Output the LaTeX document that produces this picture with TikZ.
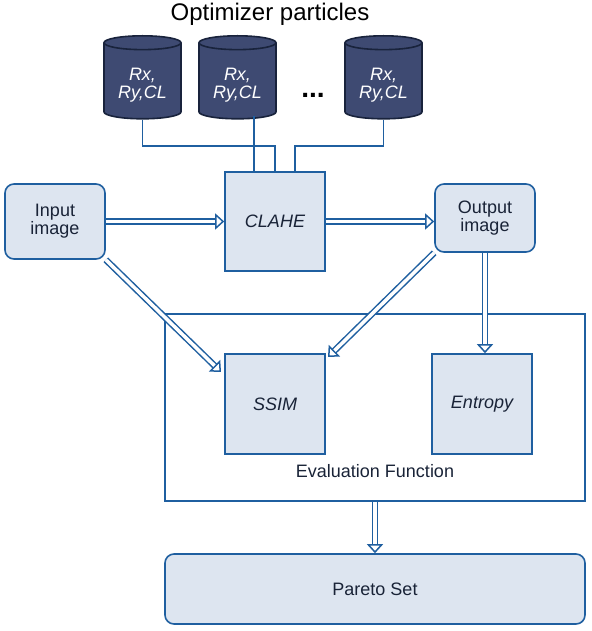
\documentclass[tikz,border=0pt]{standalone}
\usepackage{fontspec}
\setmainfont{Liberation Sans}
\usetikzlibrary{positioning,arrows.meta,shapes.geometric}
\definecolor{linea}{RGB}{31,95,160}
\definecolor{relleno}{RGB}{221,229,240}
\definecolor{texto}{RGB}{25,35,55}
\definecolor{barril}{RGB}{62,74,114}
\definecolor{borde}{RGB}{25,35,60}
\tikzset{caja/.style={draw=linea,fill=relleno,line width=1.6pt,text=texto,minimum width=100pt,align=center,font=\fontsize{18}{18}\selectfont}}
\tikzset{redonda/.style={caja,rounded corners=9pt}}
\tikzset{flecha/.style={draw=linea,line width=1.5pt,double=white,double distance=3.5pt,-{Triangle[open,fill=white,length=9pt,width=16pt]}}}
\tikzset{enlace/.style={draw=linea,line width=1.6pt}}
\newcommand{\datos}{\rule{0pt}{17pt}Rx,\\Ry,CL}

\begin{document}
\begin{tikzpicture}[x=1pt,y=-1pt,
    particula/.style={cylinder,shape border rotate=90,aspect=0.25,draw=borde,fill=barril,line width=1.6pt,anchor=north,
        minimum width=77pt,minimum height=83pt,text=white,align=center,font=\fontsize{18}{18}\selectfont\itshape}]
    \useasboundingbox (0,0) rectangle (591,631);
    \node[font=\fontsize{24}{26}\selectfont,text=black] (titulo) at (270,14) {Optimizer particles};
    \node[particula] (p1) at (142.5,35) {\datos};
    \node[particula] (p2) at (237.5,35) {\datos};
    \node[particula] (p3) at (383.5,35) {\datos};
    \node[font=\fontsize{28}{30}\selectfont\bfseries] (puntos) at (313,95) {...};

    \node[caja,minimum height=99pt,font=\fontsize{18}{18}\selectfont\itshape] (clahe) at (275,221.5) {CLAHE};
    \node[redonda,minimum height=75pt] (entrada) at (55,221.5) {Input\\image};
    \node[redonda,minimum height=68pt] (salida) at (485,218) {Output\\image};
    \node[draw=linea,line width=1.6pt,minimum width=420pt,minimum height=187pt] (eval) at (375,407.5) {};
    \node[text=texto,font=\fontsize{18}{18}\selectfont] (evaltxt) at (375,471) {Evaluation Function};
    \node[caja,minimum height=100pt,font=\fontsize{18}{18}\selectfont\itshape] (ssim) at (275,404) {SSIM};
    \node[caja,minimum height=100pt,font=\fontsize{18}{18}\selectfont\itshape] (entropia) at (482,404) {Entropy};
    \node[redonda,minimum width=420pt,minimum height=70pt] (pareto) at (375,589) {Pareto Set};

    % particulas hacia CLAHE
    \coordinate (bus1) at (275,146);
    \coordinate (bus3) at (295,146);
    \coordinate (bajada) at (254,116);
    \draw[enlace] (p1.south) |- (bus1) -- (bus1 |- clahe.north);
    \draw[enlace] (bajada) -- (bajada |- clahe.north);
    \draw[enlace] (p3.south) |- (bus3) -- (bus3 |- clahe.north);

    % flechas dobles
    \coordinate (d1) at (221,372);
    \coordinate (d2) at (328,357);
    \draw[flecha] (entrada) -- (clahe);
    \draw[flecha] (clahe.east) -- (clahe.east -| salida.west);
    \draw[flecha] (entrada.south east) -- (d1);
    \draw[flecha] (salida.south west) -- (d2);
    \draw[flecha] (salida.south) -- (salida.south |- entropia.north);
    \draw[flecha] (eval.south) -- (pareto.north);
\end{tikzpicture}
\end{document}
